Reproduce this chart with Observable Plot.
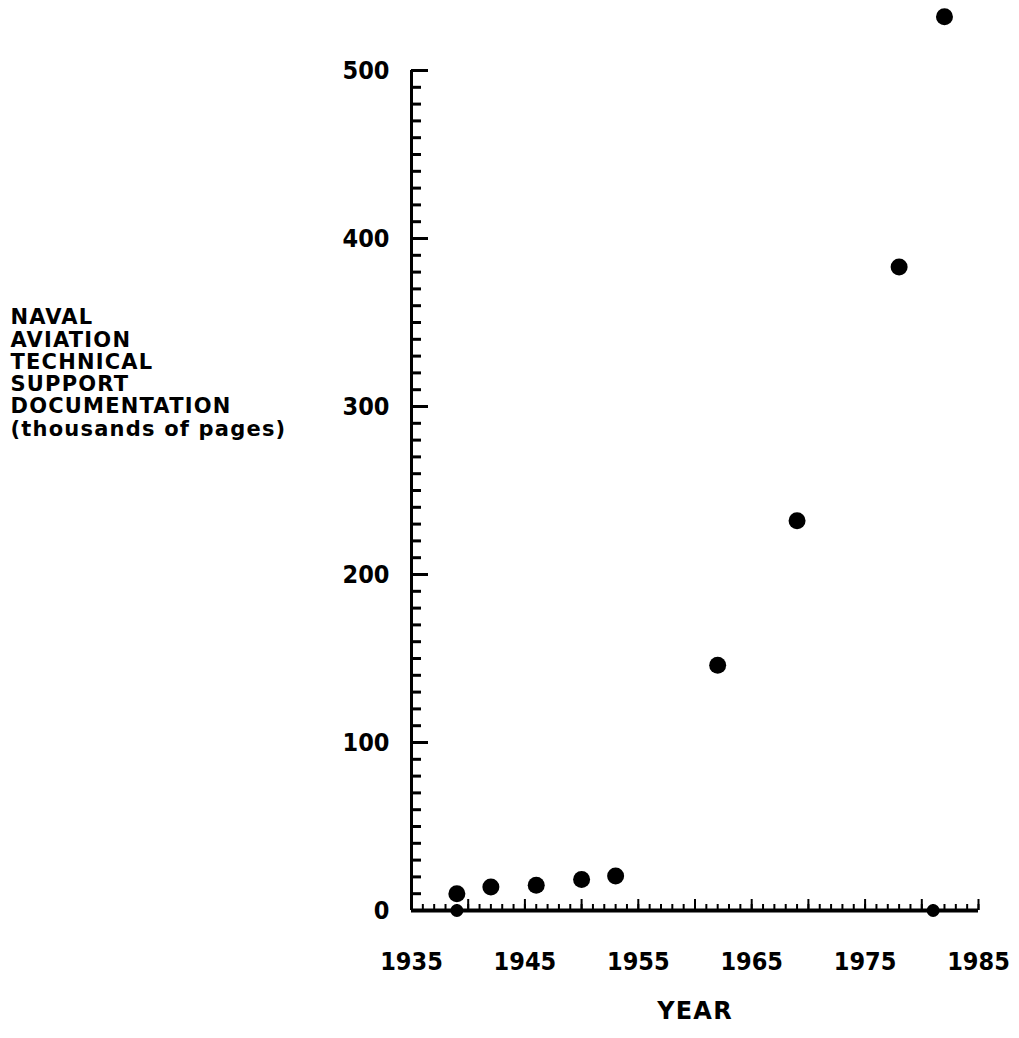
<!DOCTYPE html>
<html><head><meta charset="utf-8">
<script src="https://cdn.jsdelivr.net/npm/d3@7"></script>
<script src="https://cdn.jsdelivr.net/npm/@observablehq/plot@0.6"></script>
<style>body{margin:0;background:#fff}</style>
</head><body><div id="chart"></div>
<script>
const years = [1939, 1942, 1946, 1950, 1953, 1962, 1969, 1978, 1982];
const pages = [10, 14, 15, 18.5, 20.5, 146, 232, 383, 532];
const axisMarkYears = [1939, 1981];
const xTickLabels = [1935, 1945, 1955, 1965, 1975, 1985];
const yTickLabels = [0, 100, 200, 300, 400, 500];
const yLabelLines = ["NAVAL", "AVIATION", "TECHNICAL", "SUPPORT", "DOCUMENTATION", "(thousands of pages)"];
const xLabel = "YEAR";

const data = years.map((y, i) => ({year: y, pages: pages[i]}));
const marks0 = axisMarkYears.map(y => ({year: y, pages: 0}));
const tickFont = "'DejaVu Sans Condensed', 'Liberation Sans Narrow', 'DejaVu Sans', sans-serif";
const labelFont = "'DejaVu Sans', 'Liberation Sans', sans-serif";

const chart = Plot.plot({
  width: 1019, height: 1038,
  marginLeft: 411, marginRight: 41, marginTop: 70, marginBottom: 128,
  style: {fontFamily: tickFont, fontWeight: "bold", color: "#000", background: "#fff"},
  x: {domain: [1935, 1985]},
  y: {domain: [0, 500]},
  marks: [
    Plot.axisX({ticks: d3.range(1935, 1986, 1), tickSize: -6, tickFormat: () => "", strokeWidth: 2, label: null}),
    Plot.axisX({ticks: d3.range(1935, 1986, 5), tickSize: -11, tickFormat: () => "", strokeWidth: 2, label: null}),
    Plot.axisX({ticks: xTickLabels, tickSize: 0, tickPadding: 42, tickFormat: "d", fontSize: 25, label: null}),
    Plot.axisY({ticks: d3.range(0, 501, 10), tickSize: -10, tickFormat: () => "", strokeWidth: 3, label: null}),
    Plot.axisY({ticks: yTickLabels, tickSize: -17, tickFormat: () => "", strokeWidth: 3, label: null}),
    Plot.axisY({ticks: yTickLabels, tickSize: 0, tickPadding: 22, tickFormat: "d", fontSize: 25, label: null}),
    Plot.ruleX([1935], {y1: 0, y2: 500, strokeWidth: 3}),
    Plot.ruleY([0], {x1: 1935, x2: 1985, strokeWidth: 4}),
    Plot.dot(marks0, {x: "year", y: "pages", r: 6.5, fill: "#000"}),
    Plot.dot(data, {x: "year", y: "pages", r: 8.5, fill: "#000"}),
    Plot.text([xLabel], {frameAnchor: "bottom", dy: 108, fontSize: 24, fontFamily: labelFont}),
    Plot.text([yLabelLines.join("\n")], {frameAnchor: "top-left", dx: -401, dy: 238, textAnchor: "start", lineAnchor: "top", lineHeight: 1.06, fontSize: 21, fontFamily: labelFont})
  ]
});
d3.select(chart).selectAll('g[aria-label="text"] text').attr("letter-spacing", "1.2px");
document.getElementById("chart").append(chart);
</script>
</body></html>
